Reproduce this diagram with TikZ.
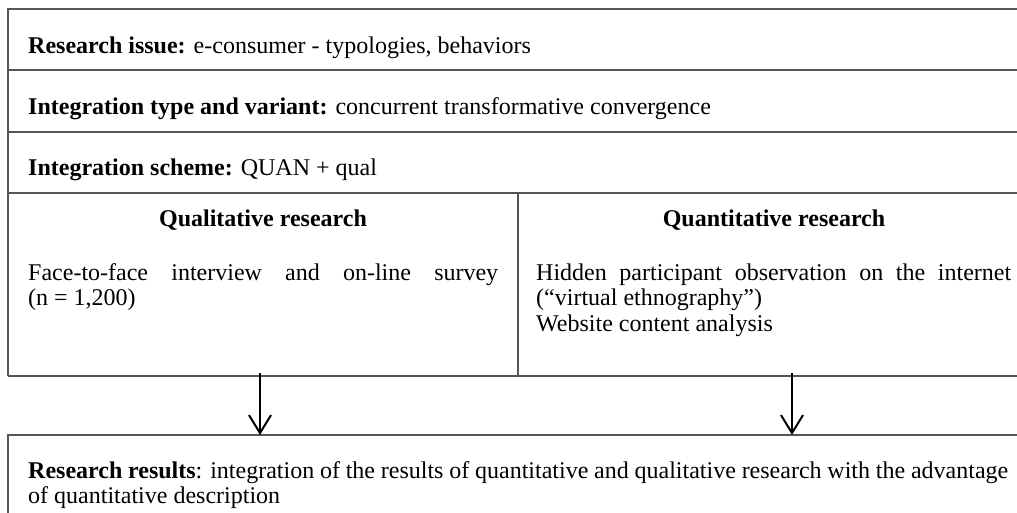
\documentclass[tikz,border=0pt]{standalone}
\usepackage{fontspec}
\setmainfont{Liberation Serif}
\usetikzlibrary{arrows.meta}
\definecolor{ruleGray}{HTML}{555555}
\begin{document}
\begin{tikzpicture}[x=1pt,y=-1pt,
  rule/.style={draw=ruleGray, line width=1.4pt},
  txt/.style={inner sep=0pt, anchor=base west, font=\fontsize{24}{25.5}\selectfont},
  para/.style={txt, align=justify, execute at begin node={\hyphenpenalty=10000\exhyphenpenalty=10000}},
  head/.style={inner sep=0pt, anchor=base, font=\fontsize{24}{25.5}\selectfont\bfseries},
  flow/.style={draw=black, line width=2pt, -{Straight Barb[length=18pt,width=22pt,line width=2pt]}}]
\useasboundingbox (0,0) rectangle (1017,513);

% header rows
\node[txt] (issue) at (28,54) {\textbf{Research issue:} e-consumer - typologies, behaviors};
\node[txt] (type) at (28,115) {\textbf{Integration type and variant:} concurrent transformative convergence};
\node[txt] (scheme) at (28,176) {\textbf{Integration scheme:} QUAN + qual};

% two research columns
\node[head] (qualhead) at (263,226) {Qualitative research};
\node[head] (quanthead) at (774,226) {Quantitative research};
\node[para, text width=470pt] (qualtext) at (28,280)
  {Face-to-face interview and on-line survey (n~=~1,200)};
\node[para, text width=475pt] (quanttext) at (536,280)
  {Hidden participant observation on the internet (“virtual ethnography”)\par Website content analysis};

% results box
\node[para, text width=980pt] (results) at (28,478)
  {\textbf{Research results}: integration of the results of quantitative and qualitative research with the advantage of quantitative description};

% table rules
\draw[rule] (1017,9) -- (8,9) -- (8,376);
\foreach \y in {70,132,193,376} \draw[rule] (8,\y) -- (1017,\y);
\draw[rule] (518,193) -- (518,376);
\draw[rule] (1017,435) -- (8,435) -- (8,513);

% arrows into the results box
\coordinate (qualout) at (260,373);
\coordinate (qualin) at (260,435);
\coordinate (quantout) at (792,373);
\coordinate (quantin) at (792,435);
\draw[flow] (qualout) -- (qualin);
\draw[flow] (quantout) -- (quantin);
\end{tikzpicture}
\end{document}
